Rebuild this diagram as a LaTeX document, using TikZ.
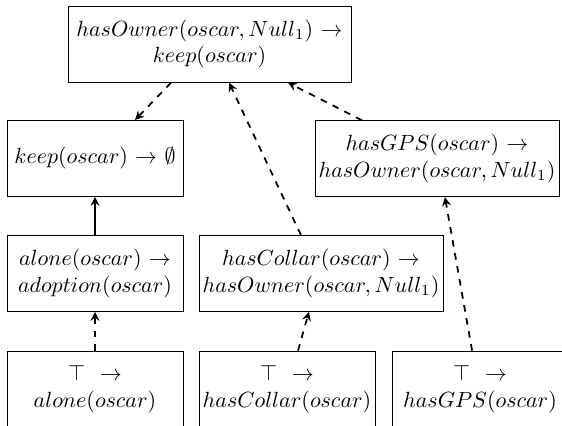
\documentclass[tikz,border=0pt]{standalone}
\begin{document}
\begin{tikzpicture}[x=0.4545pt,y=-0.4545pt,>=stealth,
		rule/.style={draw,rectangle,align=center,minimum height=34.5pt,inner sep=1pt},
		narrow/.style={rule,minimum width=80pt},
		wide/.style={rule,minimum width=110.9pt},
		link/.style={->,line width=0.8pt}]
			\clip (0,0) rectangle (562,426);
			\node[rule,minimum width=128.6pt] (owner) at (209.5,44.3) {$hasOwner(oscar,Null_1)$ $\rightarrow$\\$keep(oscar)$};
			\node[narrow] (keep) at (95,158.4) {$keep(oscar)$ $\rightarrow$ $\emptyset$};
			\node[wide] (gps) at (437,158.7) {$hasGPS(oscar)$ $\rightarrow$\\$hasOwner(oscar,Null_1)$};
			\node[narrow] (alone) at (95,273.5) {$alone(oscar)$ $\rightarrow$\\$adoption(oscar)$};
			\node[wide] (collar) at (321,273.5) {$hasCollar(oscar)$ $\rightarrow$\\$hasOwner(oscar,Null_1)$};
			\node[narrow] (factalone) at (95,389) {$\top$\ \ $\rightarrow$\\$alone(oscar)$};
			\node[narrow] (factcollar) at (287,389) {$\top$\ \ $\rightarrow$\\$hasCollar(oscar)$};
			\node[narrow] (factgps) at (480,389) {$\top$\ \ $\rightarrow$\\$hasGPS(oscar)$};
			\draw[link,dashed] ([xshift=-17.5pt]owner.south)--([xshift=18.2pt]keep.north);
			\draw[link,dashed] ([xshift=-9.1pt]collar.north)--([xshift=8.9pt]owner.south);
			\draw[link,dashed] ([xshift=-34.1pt]gps.north)--([xshift=35.7pt]owner.south);
			\draw[link] (alone)--(keep);
			\draw[link,dashed] (factalone)--(alone);
			\draw[link,dashed] ([xshift=5pt]factcollar.north)--([xshift=-5.5pt]collar.south);
			\draw[link,dashed] ([xshift=-3.6pt]factgps.north)--([xshift=3.6pt]gps.south);
		\end{tikzpicture}
\end{document}
